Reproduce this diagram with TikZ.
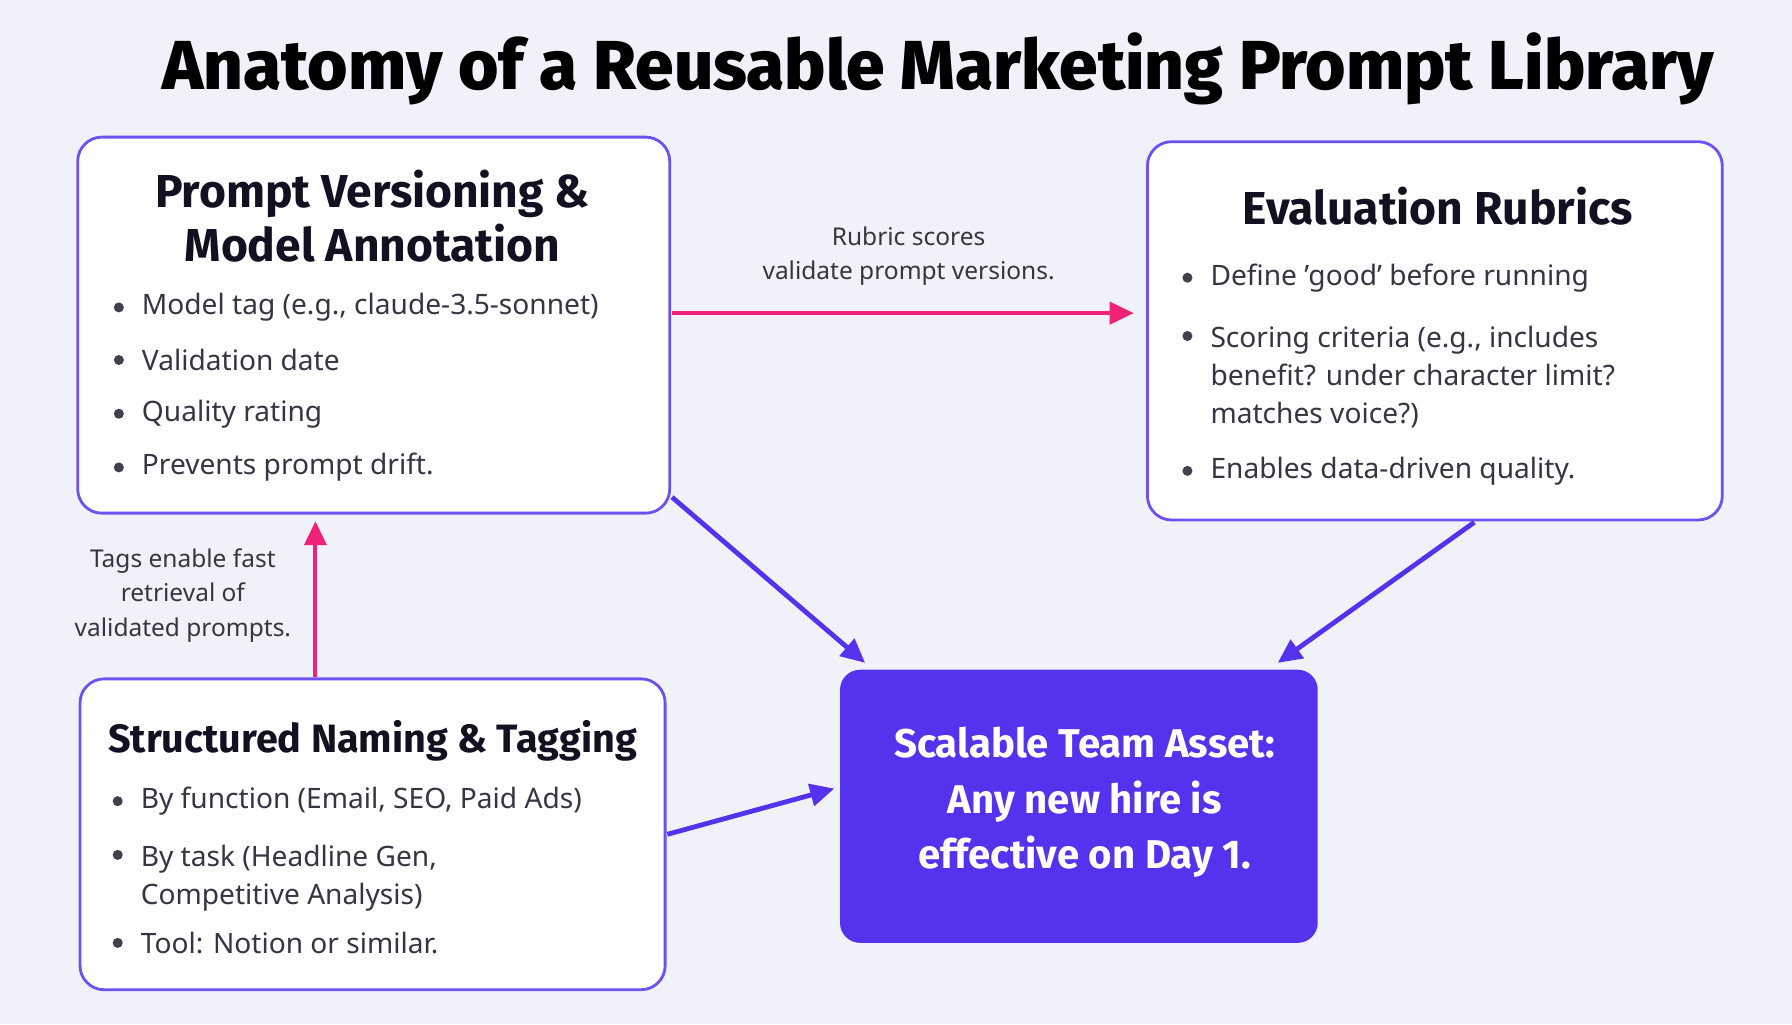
\documentclass[tikz,border=0pt]{standalone}
\usepackage{fontspec}
\setmainfont{Noto Sans}
\newfontfamily\heavy{Fira Sans}[UprightFont=* Bold,BoldFont=* ExtraBold]
\usetikzlibrary{arrows.meta}
\definecolor{bg}{HTML}{F1F1FA}
\definecolor{pur}{HTML}{5533EE}
\definecolor{pink}{HTML}{EE2277}
\definecolor{ink}{HTML}{111122}
\begin{document}
\begin{tikzpicture}[x=0.02cm,y=-0.02cm,
  box/.style={draw=pur!85,line width=1.4pt,rounded corners=12pt,fill=white},
  ttl/.style={font=\fontsize{23}{27}\selectfont\heavy,text=ink,align=center},
  bul/.style={anchor=west,font=\fontsize{14}{19}\selectfont,text=ink!85,align=left},
  dot/.style={circle,fill=ink!80,inner sep=0pt,minimum size=5pt},
  lab/.style={font=\fontsize{12.2}{17}\selectfont,text=ink!85,align=center},
  pa/.style={draw=pink,line width=2pt,-{Triangle[length=12pt,width=11pt]}},
  ua/.style={draw=pur,line width=2.4pt,-{Triangle[length=12pt,width=11pt]}}]
\fill[bg] (0,0) rectangle (1568,896);
\useasboundingbox (0,0) rectangle (1568,896);
\node[font=\fontsize{34.5}{40}\selectfont\heavy\bfseries,text=black] (title) at (821,60) {Anatomy of a Reusable Marketing Prompt Library};
% boxes
\draw[box] (68,120) rectangle (586,449);
\draw[box] (1004,124) rectangle (1507,455);
\draw[box] (70,594) rectangle (582,866);
\fill[pur,rounded corners=10pt] (735,586) rectangle (1153,825);
% box A
\node[ttl] (at) at (326,189) {Prompt Versioning \&\\Model Annotation};
\foreach \y/\t in {269/{Model tag (e.g., claude-3.5-sonnet)},315/{Validation date},362/{Quality rating},409/{Prevents prompt drift.}}{
 \node[dot] at (104,\y) {}; \node[bul] at (118,\y) {\t};}
% box B
\node[ttl] (bt) at (1258,180) {Evaluation Rubrics};
\node[dot] at (1039,243) {}; \node[bul] at (1053,243) {Define 'good' before running};
\node[dot] at (1039,294) {}; \node[bul,anchor=north west] at (1053,279) {Scoring criteria (e.g., includes\\benefit? under character limit?\\matches voice?)};
\node[dot] at (1039,412) {}; \node[bul] at (1053,412) {Enables data-driven quality.};
% box C
\node[ttl,font=\fontsize{19.7}{24}\selectfont\heavy] (ct) at (326,648) {Structured Naming \& Tagging};
\node[dot] at (103,701) {}; \node[bul] at (117,701) {By function (Email, SEO, Paid Ads)};
\node[dot] at (103,748) {}; \node[bul,anchor=north west] at (117,733) {By task (Headline Gen,\\Competitive Analysis)};
\node[dot] at (103,825) {}; \node[bul] at (117,825) {Tool: Notion or similar.};
% box D
\node[font=\fontsize{20}{27.8}\selectfont\heavy,text=white,align=center] (dt) at (949,702) {Scalable Team Asset:\\Any new hire is\\effective on Day 1.};
% arrows
\coordinate (a1) at (588,274); \coordinate (b1) at (992,274);
\draw[pa] (a1) -- (b1);
\node[lab] (l1) at (795,224) {Rubric scores\\validate prompt versions.};
\coordinate (c1) at (276,592); \coordinate (a2) at (276,456);
\draw[pa] (c1) -- (a2);
\node[lab] (l2) at (160,521) {Tags enable fast\\retrieval of\\validated prompts.};
\coordinate (a3) at (588,435); \coordinate (d1) at (757,580);
\draw[ua] (a3) -- (d1);
\coordinate (b3) at (1290,457); \coordinate (d2) at (1118,580);
\draw[ua] (b3) -- (d2);
\coordinate (c3) at (584,730); \coordinate (d3) at (730,690);
\draw[ua] (c3) -- (d3);
\end{tikzpicture}
\end{document}
